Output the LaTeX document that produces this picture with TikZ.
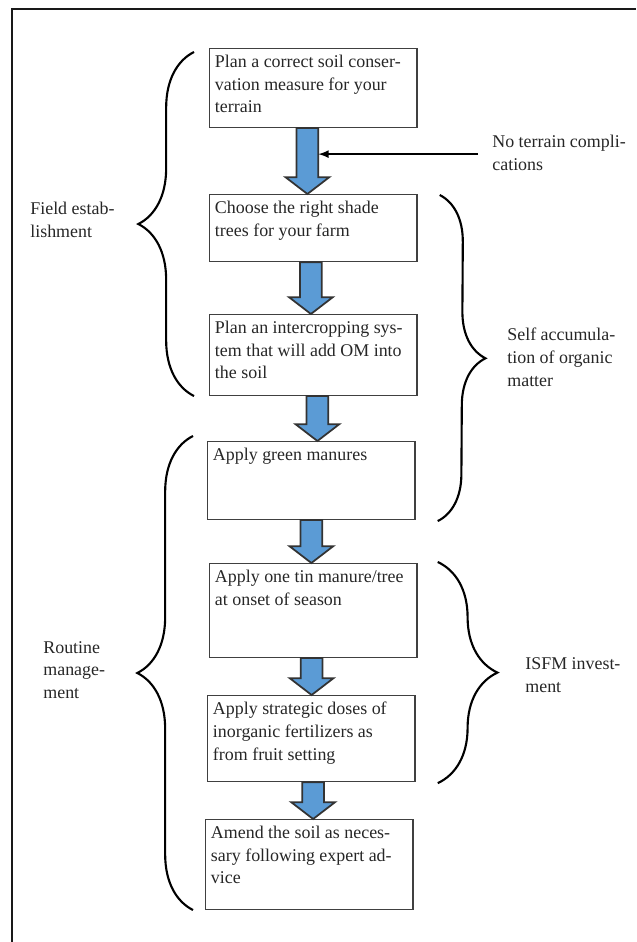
\documentclass[tikz,border=0pt]{standalone}
\usepackage{fontspec}
\setmainfont{Liberation Serif}
\usepackage{xcolor}
\usetikzlibrary{calc}
\usetikzlibrary{decorations.pathreplacing}
\definecolor{flowblue}{RGB}{91,155,213}
\newcommand{\stagefont}{\fontsize{10.2}{13}\selectfont}
\newcommand{\stagetext}[2]{\parbox[t][#1][t]{112pt}{\raggedright #2}}
\tikzset{
	stage/.style={draw=black!75, line width=0.8pt, anchor=north west, inner xsep=3pt, inner ysep=3.5pt, font=\stagefont, text=black!85},
	remark/.style={anchor=west, align=left, inner sep=0pt, font=\stagefont, text=black!85},
	curly/.style={decorate, decoration={brace, amplitude=#1}, line width=1.2pt},
	flowshift/.store in=\flowoffset, flowshift=0pt,
	flowarrow/.style={fill=flowblue, draw=black!80, line width=1pt, line join=miter,
		to path={let \p1=(\tikztostart.south), \p2=(\tikztotarget.north) in
			(\x1+\flowoffset-6.2pt,\y1) -- (\x1+\flowoffset+6.2pt,\y1) -- (\x1+\flowoffset+6.2pt,\y2+9.6pt)
			-- (\x1+\flowoffset+12.5pt,\y2+9.6pt) -- (\x1+\flowoffset,\y2) -- (\x1+\flowoffset-12.5pt,\y2+9.6pt)
			-- (\x1+\flowoffset-6.2pt,\y2+9.6pt) -- cycle}}
}
\begin{document}
\begin{tikzpicture}[x=0.02cm, y=-0.02cm, >=latex]
	\useasboundingbox (0,0) rectangle (636,942);
	\draw[line width=1.5pt, black!90] (12,942) -- (12,9) -- (636,9);
	% steps
	\node[stage] (b1) at (209,48) {\stagetext{37.8pt}{Plan a correct soil conser-\\vation measure for your\\terrain}};
	\node[stage] (b2) at (209,194) {\stagetext{31pt}{Choose the right shade\\trees for your farm}};
	\node[stage] (b3) at (209,314) {\stagetext{38.9pt}{Plan an intercropping sys-\\tem that will add OM into\\the soil}};
	\node[stage] (b4) at (207,441) {\stagetext{37.2pt}{Apply green manures}};
	\node[stage] (b5) at (209,563) {\stagetext{46.3pt}{Apply one tin manure/tree\\at onset of season}};
	\node[stage] (b6) at (207,695) {\stagetext{41.8pt}{Apply strategic doses of\\inorganic fertilizers as\\from fruit setting}};
	\node[stage] (b7) at (205,819) {\stagetext{44pt}{Amend the soil as neces-\\sary following expert ad-\\vice}};
	\foreach \a/\b/\s in {b1/b2/-3.4pt, b2/b3/-1.4pt, b3/b4/2.3pt, b4/b5/0pt, b5/b6/-1pt, b6/b7/1pt}
		{\draw[flowarrow, flowshift=\s] (\a) to (\b);}
	% side note
	\node[remark] (note) at (492,153) {No terrain compli-\\cations};
	\coordinate (entry) at ($(b1.south)+(5,26)$);
	\coordinate (tail) at ($(note.west)+(-14,0)$);
	\draw[->, line width=1pt] (tail |- entry) -- (entry);
	% braces
	\draw[curly=31.7pt] ($(b3.south west)+(-15,0)$) -- ($(b1.north west)+(-15,4)$);
	\draw[curly=31.7pt] ($(b7.south west)+(-12,0)$) -- ($(b4.north west)+(-14,-5)$);
	\draw[curly=26.6pt] ($(b2.north east)+(22,1)$) -- ($(b4.south east)+(22,1)$);
	\draw[curly=34pt] ($(b5.north east)+(20,-1)$) -- ($(b6.south east)+(22,1)$);
	\node[remark] (field) at (30,220) {Field estab-\\lishment};
	\node[remark] (routine) at (43,670) {Routine\\manage-\\ment};
	\node[remark] (selfom) at (507,357) {Self accumula-\\tion of organic\\matter};
	\node[remark] (isfm) at (525,675) {ISFM invest-\\ment};
\end{tikzpicture}
\end{document}
